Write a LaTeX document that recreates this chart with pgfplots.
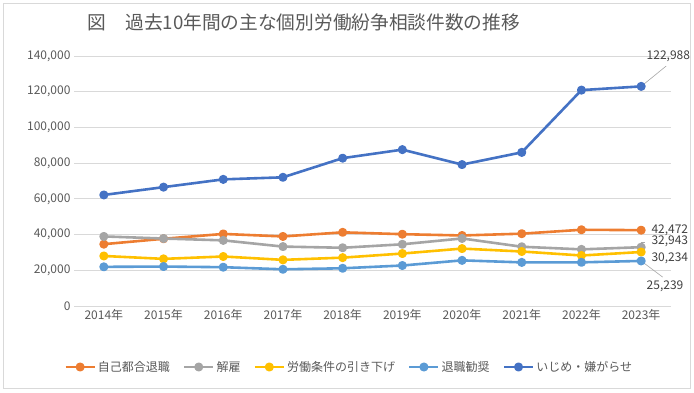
\documentclass[border=0pt]{standalone}
\usepackage{pgfplots}
\pgfplotsset{compat=1.18}
\usepackage{fontspec}
\setmainfont{Noto Sans CJK JP}
\definecolor{cOr}{HTML}{ED7D31}
\definecolor{cGy}{HTML}{A5A5A5}
\definecolor{cYl}{HTML}{FFC000}
\definecolor{cLb}{HTML}{5B9BD5}
\definecolor{cDb}{HTML}{4472C4}
\definecolor{cGrid}{HTML}{D9D9D9}
\definecolor{cTxt}{HTML}{595959}
\definecolor{cLbl}{HTML}{404040}
\definecolor{cLead}{HTML}{A6A6A6}
\begin{document}
\begin{tikzpicture}[x=1pt,y=1pt]
\useasboundingbox (0,0) rectangle (694,392);
\draw[color=cGrid, line width=0.75pt] (3.5,3.5) rectangle (690.5,388.5);
\node[font=\fontsize{18.7}{20}\selectfont, text=cTxt] at (304,370) {図　過去10年間の主な個別労働紛争相談件数の推移};
\begin{axis}[
  at={(74pt,86pt)}, anchor=south west,
  scale only axis, width=597pt, height=250pt,
  xmin=-0.5, xmax=9.5, ymin=0, ymax=140000,
  ytick={0,20000,...,140000},
  xtick={0,...,9},
  xticklabels={2014年,2015年,2016年,2017年,2018年,2019年,2020年,2021年,2022年,2023年},
  ymajorgrids, grid style={cGrid, line width=0.75pt},
  axis line style={draw=none},
  major tick length=0pt,
  tick label style={font=\fontsize{12}{14}\selectfont, text=cTxt},
  /pgf/number format/assume math mode=true,
  scaled y ticks=false,
  yticklabel style={/pgf/number format/.cd, fixed, 1000 sep={,}},
  clip=false,
  every axis plot/.append style={line width=2.6pt, line join=round, mark=*, mark size=3.2pt, mark options={solid}},
  legend columns=5,
  legend style={at={(0.461,-0.244)}, anchor=center, draw=none, fill=none,
    font=\fontsize{12}{14}\selectfont, text=cTxt,
    /tikz/every even column/.append style={column sep=11pt}},
  legend image code/.code={\draw[#1, mark=none] (0pt,0pt) -- (29pt,0pt);
    \path[#1] plot coordinates {(14.5pt,0pt)};},
]
\addplot[color=cOr] coordinates {(0,34626) (1,37648) (2,40364) (3,38954) (4,41258) (5,40219) (6,39498) (7,40501) (8,42694) (9,42472)};
\addlegendentry{自己都合退職}
\addplot[color=cGy] coordinates {(0,38966) (1,37787) (2,36760) (3,33269) (4,32614) (5,34561) (6,37826) (7,33189) (8,31714) (9,32943)};
\addlegendentry{解雇}
\addplot[color=cYl] coordinates {(0,28015) (1,26392) (2,27723) (3,25841) (4,27082) (5,29379) (6,32153) (7,30524) (8,28287) (9,30234)};
\addlegendentry{労働条件の引き下げ}
\addplot[color=cLb] coordinates {(0,21928) (1,22093) (2,21736) (3,20555) (4,21125) (5,22675) (6,25560) (7,24424) (8,24450) (9,25239)};
\addlegendentry{退職勧奨}
\addplot[color=cDb] coordinates {(0,62191) (1,66566) (2,70917) (3,72067) (4,82797) (5,87570) (6,79190) (7,86034) (8,120900) (9,122988)};
\addlegendentry{いじめ・嫌がらせ}
% leader lines
\draw[cLead, line width=0.6pt] (axis cs:9,122988) -- (axis cs:9.42,134400);
\draw[cLead, line width=0.6pt] (axis cs:9,33500) -- (axis cs:9,35700) -- (axis cs:9.07,35700);
\draw[cLead, line width=0.6pt] (axis cs:9,25239) -- (axis cs:9.36,16200);
% data labels
\node[anchor=west, inner sep=0pt, font=\fontsize{12}{14}\selectfont, text=cLbl] at (axis cs:9.09,139800) {122,988};
\node[anchor=west, inner sep=0pt, font=\fontsize{12}{14}\selectfont, text=cLbl] at (axis cs:9.17,42472) {42,472};
\node[anchor=west, inner sep=0pt, font=\fontsize{12}{14}\selectfont, text=cLbl] at (axis cs:9.17,36000) {32,943};
\node[anchor=west, inner sep=0pt, font=\fontsize{12}{14}\selectfont, text=cLbl] at (axis cs:9.17,26600) {30,234};
\node[anchor=west, inner sep=0pt, font=\fontsize{12}{14}\selectfont, text=cLbl] at (axis cs:9.09,10800) {25,239};
\end{axis}
\end{tikzpicture}
\end{document}
